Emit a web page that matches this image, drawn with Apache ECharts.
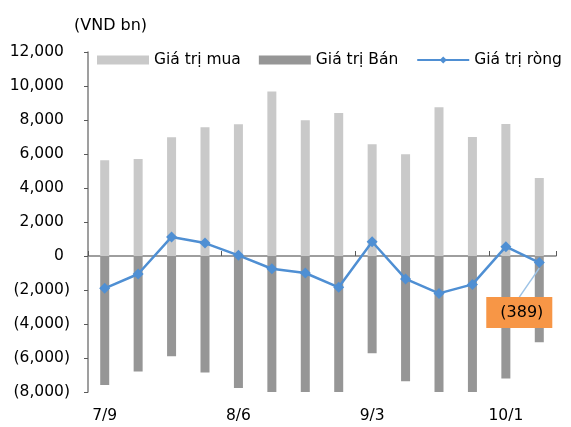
<!DOCTYPE html>
<html>
<head>
<meta charset="utf-8">
<script src="https://cdn.jsdelivr.net/npm/echarts@6/dist/echarts.min.js"></script>
<style>
html,body{margin:0;padding:0;background:#fff;}
#c{width:571px;height:427px;}
</style>
</head>
<body>
<div id="c"></div>
<script>
var categories = ['7/9','7/16','7/23','7/30','8/6','8/13','8/20','8/27','9/3','9/10','9/17','9/24','10/1','10/8'];
var buyValues  = [5630, 5710, 6980, 7570, 7750, 9670, 7980, 8410, 6570, 5980, 8750, 7000, 7760, 4590];
var sellValues = [-7590, -6800, -5900, -6860, -7760, -10420, -8980, -10250, -5720, -7370, -10950, -8670, -7210, -5080];
var netValues  = [-1900, -1060, 1120, 760, 40, -750, -1000, -1840, 840, -1350, -2200, -1670, 550, -389];
var yTicks = {min: -8000, max: 12000, interval: 2000};
var seriesNames = ['Giá trị mua', 'Giá trị Bán', 'Giá trị ròng'];
var unitLabel = '(VND bn)';
var labelledIndex = netValues.length - 1;

var FONT = 'DejaVu Sans';
function fmt(v){
  var s = Math.abs(v).toString().replace(/\B(?=(\d{3})+(?!\d))/g, ',');
  return v < 0 ? '{n|(' + s + ')}' : '{n|' + s + '}{h|)}';
}
var netData = netValues.map(function(v, i){
  if (i === labelledIndex) {
    return {
      value: v,
      label: {
        show: true,
        position: 'bottom',
        distance: 5,
        formatter: function(p){ return '(' + Math.abs(p.value) + ')'; },
        backgroundColor: '#F79646',
        color: '#000',
        fontFamily: FONT,
        fontSize: 16,
        padding: [8, 9, 7, 14]
      }
    };
  }
  return v;
});

var chart = echarts.init(document.getElementById('c'), null, {renderer: 'canvas'});
chart.setOption({
  animation: false,
  backgroundColor: '#fff',
  title: {
    text: unitLabel, left: 69, top: 13,
    textStyle: {fontFamily: FONT, fontSize: 16, fontWeight: 'normal', color: '#000'}
  },
  legend: {
    left: 92, top: 47, width: 479,
    itemWidth: 52, itemHeight: 9, itemGap: 18,
    textStyle: {fontFamily: FONT, fontSize: 15.5, color: '#000'},
    data: [
      {name: seriesNames[0], icon: 'rect'},
      {name: seriesNames[1], icon: 'rect'},
      {name: seriesNames[2]}
    ]
  },
  grid: {left: 88, right: 15, top: 52, bottom: 35, containLabel: false},
  xAxis: [
    {
      type: 'category', data: categories, position: 'bottom',
      axisLine: {show: false, onZero: false},
      axisTick: {show: false},
      axisLabel: {interval: 3, margin: 16, fontFamily: FONT, fontSize: 15.5, color: '#000'}
    },
    {
      type: 'category', data: categories, position: 'top',
      axisLine: {show: true, onZero: true, lineStyle: {color: '#7f7f7f', width: 1.5}},
      axisTick: {show: true, interval: 3, inside: false, length: 5, lineStyle: {color: '#595959'}},
      axisLabel: {show: false}
    }
  ],
  yAxis: {
    type: 'value', min: yTicks.min, max: yTicks.max, interval: yTicks.interval,
    splitLine: {show: false},
    axisLine: {show: true, lineStyle: {color: '#7f7f7f', width: 1.5}},
    axisTick: {show: true, length: 4, lineStyle: {color: '#595959'}},
    axisLabel: {
      margin: 18, formatter: fmt,
      rich: {
        n: {fontFamily: FONT, fontSize: 15.5, color: '#000'},
        h: {fontFamily: FONT, fontSize: 15.5, color: 'transparent'}
      }
    }
  },
  series: [
    {
      name: seriesNames[0], type: 'bar', data: buyValues, xAxisIndex: 0,
      barWidth: 9, barGap: '-100%', clip: true,
      itemStyle: {color: '#C9C9C9'}
    },
    {
      name: seriesNames[1], type: 'bar', data: sellValues, xAxisIndex: 0,
      barWidth: 9, barGap: '-100%', clip: true,
      itemStyle: {color: '#969696'}
    },
    {
      name: seriesNames[2], type: 'line', data: netData, xAxisIndex: 0,
      symbol: 'diamond', symbolSize: 11, showAllSymbol: true,
      lineStyle: {color: '#4F8FD3', width: 2.5},
      itemStyle: {color: '#4F8FD3'},
      labelLine: {show: true, lineStyle: {color: '#9DC3E6', width: 1.5}},
      labelLayout: function(p){
        if (p.dataIndex === labelledIndex) return {dx: -20, dy: 24};
        return {};
      },
      z: 5
    }
  ]
});
</script>
</body>
</html>
